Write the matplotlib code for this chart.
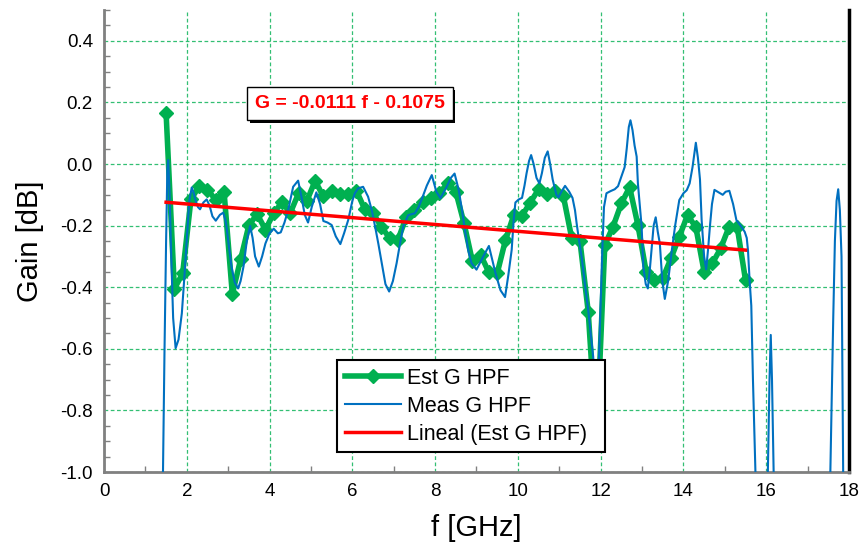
import numpy as np
import matplotlib
matplotlib.use('Agg')
import matplotlib.pyplot as plt
from matplotlib.ticker import MultipleLocator, FormatStrFormatter
from matplotlib import patheffects
plt.rcParams["font.family"] = ["Liberation Sans", "DejaVu Sans"]
plt.rcParams["axes.unicode_minus"] = False

# Est G HPF (markers every 0.2 GHz)
est_freq = [1.5, 1.7, 1.9, 2.1, 2.3, 2.5, 2.7, 2.9, 3.1, 3.3, 3.5, 3.7, 3.9, 4.1,
            4.3, 4.5, 4.7, 4.9, 5.1, 5.3, 5.5, 5.7, 5.9, 6.1, 6.3, 6.5, 6.7, 6.9,
            7.1, 7.3, 7.5, 7.7, 7.9, 8.1, 8.3, 8.5, 8.7, 8.9, 9.1, 9.3, 9.5, 9.7,
            9.9, 10.1, 10.3, 10.5, 10.7, 10.9, 11.1, 11.3, 11.5, 11.7, 11.9, 12.1,
            12.3, 12.5, 12.7, 12.9, 13.1, 13.3, 13.5, 13.7, 13.9, 14.1, 14.3, 14.5,
            14.7, 14.9, 15.1, 15.3, 15.5]
est_gain = [0.165, -0.405, -0.355, -0.115, -0.072, -0.083, -0.117, -0.09, -0.422, -0.31,
            -0.199, -0.163, -0.213, -0.16, -0.124, -0.159, -0.095, -0.12, -0.055, -0.105,
            -0.087, -0.097, -0.098, -0.087, -0.147, -0.16, -0.203, -0.241, -0.247, -0.173,
            -0.149, -0.122, -0.111, -0.095, -0.063, -0.09, -0.193, -0.315, -0.295, -0.352,
            -0.355, -0.247, -0.166, -0.168, -0.125, -0.082, -0.098, -0.087, -0.105, -0.24,
            -0.25, -0.48, -0.9, -0.263, -0.203, -0.128, -0.075, -0.198, -0.35, -0.378,
            -0.371, -0.306, -0.236, -0.166, -0.205, -0.35, -0.322, -0.274, -0.205, -0.205,
            -0.377]

# Meas G HPF
meas_freq = [1.42, 1.46, 1.50, 1.53, 1.55, 1.58, 1.62, 1.67, 1.73, 1.80, 1.88, 1.94, 2.00,
             2.06, 2.12, 2.17, 2.21, 2.27, 2.32, 2.40, 2.48, 2.55, 2.62, 2.70, 2.80, 2.88,
             2.93, 2.96, 3.02, 3.08, 3.16, 3.24, 3.30, 3.37, 3.45, 3.53, 3.59, 3.65, 3.74,
             3.82, 3.90, 4.00, 4.10, 4.20, 4.27, 4.36, 4.45, 4.57, 4.69, 4.77, 4.85, 4.93,
             5.02, 5.13, 5.22, 5.30, 5.40, 5.50, 5.60, 5.71, 5.80, 5.90, 6.00, 6.06, 6.14,
             6.26, 6.38, 6.47, 6.55, 6.63, 6.71, 6.80, 6.89, 6.98, 7.07, 7.15, 7.23, 7.35,
             7.51, 7.60, 7.67, 7.80, 7.92, 8.03, 8.13, 8.28, 8.38, 8.47, 8.57, 8.65, 8.72,
             8.80, 8.88, 9.00, 9.16, 9.30, 9.38, 9.46, 9.58, 9.69, 9.77, 9.85, 9.90, 9.94,
             10.02, 10.10, 10.16, 10.21, 10.27, 10.32, 10.38, 10.45, 10.52, 10.58, 10.65,
             10.72, 10.78, 10.84, 10.93, 10.98, 11.05, 11.14, 11.24, 11.32, 11.38, 11.42,
             11.48, 11.54, 11.62, 11.70, 11.76, 11.82, 11.89, 11.96, 12.00, 12.04, 12.08,
             12.14, 12.24, 12.34, 12.42, 12.50, 12.58, 12.63, 12.68, 12.72, 12.77, 12.82,
             12.87, 12.90, 12.95, 12.99, 13.03, 13.09, 13.14, 13.19, 13.23, 13.28, 13.33,
             13.38, 13.43, 13.49, 13.55, 13.63, 13.72, 13.80, 13.90, 14.00, 14.08, 14.15,
             14.22, 14.30, 14.35, 14.40, 14.44, 14.50, 14.55, 14.60, 14.64, 14.69, 14.75,
             14.85, 14.95, 15.02, 15.11, 15.20, 15.28, 15.38, 15.48, 15.53, 15.56, 15.60,
             15.64, 15.68, 15.74, 15.78, 16.00, 16.04, 16.08, 16.11, 16.14, 16.18, 16.22,
             17.50, 17.55, 17.62, 17.66, 17.70, 17.74, 17.78, 17.82, 17.86, 17.88]
meas_gain = [-1.05, -0.62, -0.25, -0.02, 0.013, -0.08, -0.28, -0.50, -0.598, -0.57, -0.485,
             -0.37, -0.247, -0.12, -0.076, -0.095, -0.117, -0.14, -0.147, -0.125, -0.115,
             -0.135, -0.17, -0.184, -0.165, -0.158, -0.18, -0.203, -0.27, -0.333, -0.385,
             -0.404, -0.38, -0.333, -0.25, -0.201, -0.24, -0.30, -0.333, -0.30, -0.258,
             -0.225, -0.21, -0.225, -0.222, -0.19, -0.149, -0.074, -0.054, -0.106, -0.165,
             -0.19, -0.139, -0.092, -0.13, -0.185, -0.19, -0.198, -0.235, -0.26, -0.225,
             -0.182, -0.12, -0.095, -0.079, -0.074, -0.106, -0.15, -0.203, -0.26, -0.322,
             -0.39, -0.414, -0.38, -0.322, -0.26, -0.203, -0.166, -0.16, -0.14, -0.117,
             -0.07, -0.036, -0.09, -0.111, -0.074, -0.045, -0.031, -0.084, -0.15, -0.214,
             -0.28, -0.322, -0.343, -0.301, -0.266, -0.31, -0.355, -0.41, -0.432, -0.36,
             -0.279, -0.18, -0.125, -0.115, -0.11, -0.07, -0.03, 0.01, 0.029, 0.0, -0.045,
             -0.063, -0.03, 0.02, 0.041, 0.0, -0.05, -0.10, -0.108, -0.09, -0.071, -0.09,
             -0.11, -0.15, -0.193, -0.25, -0.301, -0.39, -0.474, -0.55, -0.626, -0.78,
             -0.626, -0.45, -0.28, -0.14, -0.095, -0.088, -0.082, -0.072, -0.041, -0.01,
             0.05, 0.12, 0.142, 0.11, 0.06, 0.024, -0.063, -0.14, -0.203, -0.333, -0.39,
             -0.404, -0.34, -0.279, -0.2, -0.173, -0.22, -0.258, -0.38, -0.438, -0.38,
             -0.28, -0.2, -0.117, -0.095, -0.085, -0.063, -0.01, 0.069, 0.02, -0.05,
             -0.182, -0.3, -0.342, -0.27, -0.203, -0.13, -0.084, -0.092, -0.1, -0.09,
             -0.087, -0.13, -0.182, -0.2, -0.22, -0.24, -0.28, -0.38, -0.46, -0.70, -1.0,
             -1.15, -1.15, -1.0, -0.70, -0.555, -0.70, -1.0, -1.15, -1.15, -1.0, -0.5,
             -0.25, -0.12, -0.082, -0.15, -0.30, -1.0, -1.15]

# linear trendline shown on the chart
trend_slope = -0.0111
trend_intercept = -0.1075

fig = plt.figure(figsize=(8.64, 5.47), dpi=100)
ax = fig.add_axes([0.1204, 0.1371, 0.8622, 0.8446])

ax.plot(est_freq, est_gain, color='#00B050', lw=4, marker='D', markersize=7.5,
        label='Est G HPF', zorder=3)
ax.plot(meas_freq, meas_gain, color='#0070C0', lw=1.5, label='Meas G HPF', zorder=4)
tf = np.array([est_freq[0], est_freq[-1]])
ax.plot(tf, trend_slope * tf + trend_intercept, color='#FF0000', lw=2.5,
        label='Lineal (Est G HPF)', zorder=5)

ax.set_xlim(0, 18)
ax.set_ylim(-1.0, 0.5)
ax.xaxis.set_major_locator(MultipleLocator(2))
ax.xaxis.set_minor_locator(MultipleLocator(1))
ax.yaxis.set_minor_locator(MultipleLocator(0.05))
ax.yaxis.set_major_formatter(FormatStrFormatter('%.1f'))
ax.set_yticks([-1.0, -0.8, -0.6, -0.4, -0.2, 0.0, 0.2, 0.4])
ax.tick_params(which='both', direction='in', color='#808080', labelsize=13.5)
ax.tick_params(which='major', length=0, pad=8)
ax.tick_params(which='minor', length=4, width=1)
ax.grid(True, which='major', color='#00B050', ls=(0, (3, 2)), lw=0.9, alpha=0.8)

for s in ['left', 'bottom']:
    ax.spines[s].set_color('#808080')
    ax.spines[s].set_linewidth(2)
ax.spines['top'].set_visible(False)
ax.spines['right'].set_color('black')
ax.spines['right'].set_linewidth(2.5)

ax.set_xlabel('f [GHz]', fontsize=21, labelpad=10)
ax.set_ylabel('Gain [dB]', fontsize=21, labelpad=12)

t = ax.text(5.94, 0.196, 'G = -0.0111 f - 0.1075', color='#FF0000', fontsize=14,
            fontweight='bold', ha='center', va='center', zorder=6,
            bbox=dict(boxstyle='square,pad=0.4', fc='white', ec='black', lw=1))
t.get_bbox_patch().set_path_effects([
    patheffects.withSimplePatchShadow(offset=(2, -2), shadow_rgbFace='black', alpha=1)])

leg = ax.legend(loc='lower left', bbox_to_anchor=(0.3128, 0.043, 0.36, 0.0),
                mode='expand', fontsize=15.5,
                fancybox=False, edgecolor='black', framealpha=1, handlelength=2.6,
                borderaxespad=0, borderpad=0.35, labelspacing=0.32, handletextpad=0.3)
leg.get_frame().set_linewidth(1.5)
leg.set_zorder(10)
leg.legend_handles[0].set_markersize(7)

plt.savefig('out.png', dpi=100)
